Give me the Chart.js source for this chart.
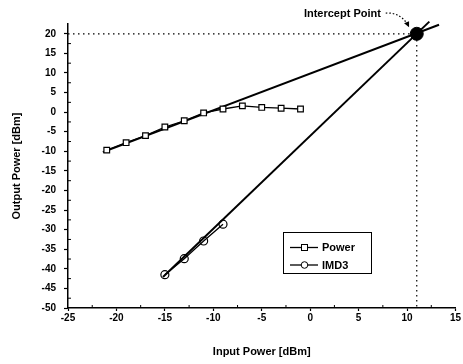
<!DOCTYPE html>
<html>
<head>
<meta charset="utf-8">
<script src="https://cdn.jsdelivr.net/npm/chart.js@4"></script>
<style>
html,body{margin:0;padding:0;background:#fff;}
#wrap{width:463px;height:364px;position:relative;}
</style>
</head>
<body>
<div id="wrap"><canvas id="c" width="463" height="364"></canvas></div>
<script>
// ---- data ----
const powerIn  = [-21, -19, -17, -15, -13, -11, -9, -7, -5, -3, -1];
const powerOut = [-9.7, -7.8, -6.0, -3.8, -2.2, -0.2, 0.8, 1.6, 1.2, 1.0, 0.8];
const imd3In   = [-15, -13, -11, -9];
const imd3Out  = [-41.5, -37.4, -32.9, -28.6];
const powerFitIn  = [-21.4, 13.3];
const powerFitOut = [-10.2, 22.3];
const imd3FitIn   = [-15.2, 12.3];
const imd3FitOut  = [-42.1, 23.1];
const interceptIn  = [11];
const interceptOut = [20];
const xTicks = [-25, -20, -15, -10, -5, 0, 5, 10, 15];
const yTicks = [-50, -45, -40, -35, -30, -25, -20, -15, -10, -5, 0, 5, 10, 15, 20];
const seriesNames = ['Power', 'IMD3'];
const annotationText = 'Intercept Point';
const xTitle = 'Input Power [dBm]';
const yTitle = 'Output Power [dBm]';

const pts = (xs, ys) => xs.map((x, i) => ({x: x, y: ys[i]}));
const FONT = '"Liberation Sans", Arial, sans-serif';

const extras = {
  id: 'extras',
  afterDraw(chart) {
    const ctx = chart.ctx;
    const xs = chart.scales.x, ys = chart.scales.y;
    ctx.save();
    // minor ticks
    ctx.strokeStyle = '#000';
    ctx.lineWidth = 1;
    for (let v = -22.5; v < 15; v += 5) {
      const px = xs.getPixelForValue(v);
      ctx.beginPath(); ctx.moveTo(px, ys.bottom); ctx.lineTo(px, ys.bottom - 3); ctx.stroke();
    }
    for (let v = -47.5; v < 22.5; v += 5) {
      const py = ys.getPixelForValue(v);
      ctx.beginPath(); ctx.moveTo(xs.left, py); ctx.lineTo(xs.left + 3, py); ctx.stroke();
    }
    // annotation text
    ctx.fillStyle = '#000';
    ctx.font = 'bold 11px ' + FONT;
    ctx.textAlign = 'right';
    ctx.textBaseline = 'middle';
    const tx = xs.getPixelForValue(7.3), ty = ys.getPixelForValue(25.1);
    ctx.fillText(annotationText, tx, ty);
    // dotted curved arrow
    const sx = xs.getPixelForValue(7.8), sy = ys.getPixelForValue(25.3);
    const cx = xs.getPixelForValue(9.3), cy = ys.getPixelForValue(25.5);
    const ex = xs.getPixelForValue(10.1), ey = ys.getPixelForValue(22.2);
    ctx.setLineDash([1.5, 2]);
    ctx.lineWidth = 1.2;
    ctx.beginPath(); ctx.moveTo(sx, sy); ctx.quadraticCurveTo(cx, cy, ex, ey); ctx.stroke();
    ctx.setLineDash([]);
    ctx.beginPath();
    ctx.moveTo(ex + 1, ey + 2);
    ctx.lineTo(ex - 4, ey - 2);
    ctx.lineTo(ex + 1, ey - 4);
    ctx.closePath(); ctx.fill();
    // legend box
    ctx.lineWidth = 1;
    ctx.strokeRect(283.5, 232.5, 88, 41);
    const rows = [247.5, 265];
    rows.forEach((ry, i) => {
      ctx.lineWidth = 1.3;
      ctx.beginPath(); ctx.moveTo(290, ry); ctx.lineTo(318, ry); ctx.stroke();
      ctx.fillStyle = '#fff';
      ctx.lineWidth = 1;
      if (i === 0) {
        ctx.fillRect(301.5, ry - 3, 6, 6);
        ctx.strokeRect(301.5, ry - 3, 6, 6);
      } else {
        ctx.beginPath(); ctx.arc(304.5, ry, 3.3, 0, Math.PI * 2); ctx.fill(); ctx.stroke();
      }
      ctx.fillStyle = '#000';
      ctx.font = 'bold 11px ' + FONT;
      ctx.textAlign = 'left';
      ctx.fillText(seriesNames[i], 322, ry + 0.5);
    });
    ctx.restore();
  }
};

new Chart(document.getElementById('c'), {
  type: 'scatter',
  data: {
    datasets: [
      {
        label: seriesNames[0], data: pts(powerIn, powerOut), showLine: true,
        borderColor: '#000', borderWidth: 1.3, pointStyle: 'rect', pointRadius: 4,
        pointBackgroundColor: '#fff', pointBorderColor: '#000', pointBorderWidth: 1.2
      },
      {
        label: seriesNames[1], data: pts(imd3In, imd3Out), showLine: true,
        borderColor: '#000', borderWidth: 1.3, pointStyle: 'circle', pointRadius: 4,
        pointBackgroundColor: 'rgba(255,255,255,0)', pointBorderColor: '#000', pointBorderWidth: 1.2
      },
      {
        label: 'intercept', data: pts(interceptIn, interceptOut), showLine: false,
        pointRadius: 6.5, pointBackgroundColor: '#000', pointBorderColor: '#000', clip: false
      },
      {
        label: 'powerFit', data: pts(powerFitIn, powerFitOut), showLine: true,
        borderColor: '#000', borderWidth: 2, pointRadius: 0, clip: false
      },
      {
        label: 'imd3Fit', data: pts(imd3FitIn, imd3FitOut), showLine: true,
        borderColor: '#000', borderWidth: 2, pointRadius: 0, clip: false
      },
      {
        label: 'guide', data: [{x: -25, y: interceptOut[0]}, {x: interceptIn[0], y: interceptOut[0]}, {x: interceptIn[0], y: -50}],
        showLine: true, borderColor: '#000', borderWidth: 1.2, borderDash: [1.5, 3.5], pointRadius: 0
      }
    ]
  },
  options: {
    responsive: false,
    animation: false,
    events: [],
    layout: {padding: {left: 0, right: 7, top: 24, bottom: 0}},
    plugins: {legend: {display: false}, tooltip: {enabled: false}},
    scales: {
      x: {
        type: 'linear', min: -25, max: 15,
        afterFit(s) { s.height = 56; },
        afterBuildTicks(s) { s.ticks = xTicks.map(v => ({value: v})); },
        border: {display: true, color: '#000', width: 1.5},
        grid: {display: true, drawOnChartArea: false, drawTicks: true, tickLength: 3, tickColor: '#000', tickWidth: 1.2},
        ticks: {color: '#000', padding: 1, maxRotation: 0, autoSkip: false, font: {family: FONT, size: 10, weight: 'bold'}},
        title: {display: true, text: xTitle, color: '#000', font: {family: FONT, size: 11, weight: 'bold'}, padding: {top: 0, bottom: 5}}
      },
      y: {
        type: 'linear', min: -50, max: 22.5,
        afterFit(s) { s.width = 68; },
        afterBuildTicks(s) { s.ticks = yTicks.map(v => ({value: v})); },
        border: {display: true, color: '#000', width: 1.5},
        grid: {display: true, drawOnChartArea: false, drawTicks: true, tickLength: 4, tickColor: '#000', tickWidth: 1.2},
        ticks: {color: '#000', padding: 8, autoSkip: false, font: {family: FONT, size: 10, weight: 'bold'}},
        title: {display: true, text: yTitle, color: '#000', font: {family: FONT, size: 11, weight: 'bold'}, padding: {top: 10, bottom: 0}}
      }
    }
  },
  plugins: [extras]
});
</script>
</body>
</html>
